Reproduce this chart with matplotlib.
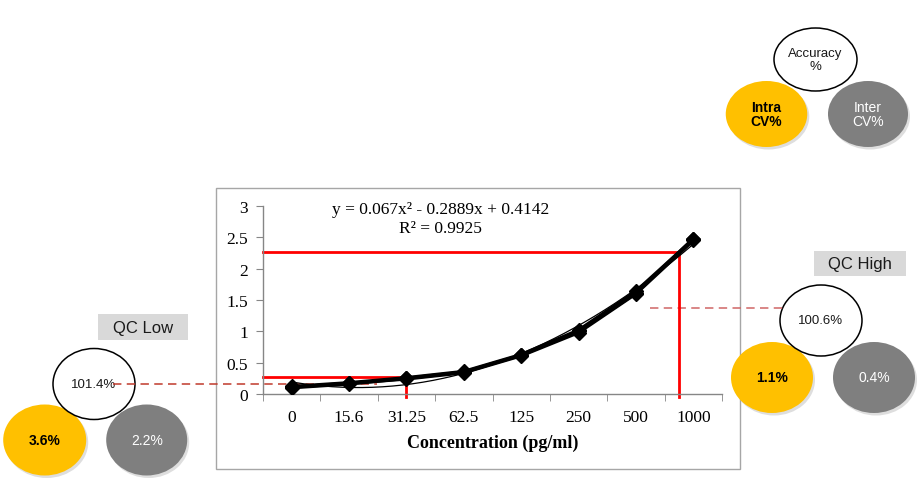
import numpy as np
import matplotlib
matplotlib.use("Agg")
import matplotlib.pyplot as plt
from matplotlib.patches import Ellipse, Rectangle

# data
concentrations = ["0", "15.6", "31.25", "62.5", "125", "250", "500", "1000"]
replicate_a = [0.10, 0.16, 0.25, 0.35, 0.62, 1.00, 1.61, 2.48]
replicate_b = [0.12, 0.18, 0.26, 0.36, 0.63, 1.02, 1.64, 2.47]
replicate_c = [0.11, 0.17, 0.24, 0.34, 0.61, 0.98, 1.60, 2.45]
fit_coeffs = [0.067, -0.2889, 0.4142]  # y = a*x^2 + b*x + c, x = 1..8
fit_label = "y = 0.067x² - 0.2889x + 0.4142"
r2_label = "R² = 0.9925"

yticks = [0, 0.5, 1, 1.5, 2, 2.5, 3]
ytick_labels = ["0", "0.5", "1", "1.5", "2", "2.5", "3"]

qc_low_x, qc_low_y = 2, 0.27
qc_high_x, qc_high_y = 6.75, 2.27

legend_labels = ["Accuracy\n%", "Intra\nCV%", "Inter\nCV%"]
qc_low_values = ["101.4%", "3.6%", "2.2%"]
qc_high_values = ["100.6%", "1.1%", "0.4%"]

YELLOW = "#FFC000"
GREY = "#7F7F7F"
SERIF = "Liberation Serif"
SANS = "Liberation Sans"

W, H = 918, 481
fig = plt.figure(figsize=(W / 100, H / 100), dpi=100)

# overlay in pixel coordinates for the decorations
ov = fig.add_axes([0, 0, 1, 1], zorder=0)
ov.set_xlim(0, W)
ov.set_ylim(H, 0)
ov.axis("off")

# chart frame
ov.add_patch(Rectangle((216, 189), 524, 281, facecolor="white",
                       edgecolor="#A6A6A6", lw=1.0, zorder=1))


def bubble(cx, cy, w, h, color, text, txtcolor, bold=False, size=10):
    if color == "white":
        ov.add_patch(Ellipse((cx, cy), w, h, facecolor="white",
                             edgecolor="black", lw=1.1, zorder=4))
        z = 4
    else:
        ov.add_patch(Ellipse((cx + 2, cy + 2.5), w, h, facecolor="#c8c8c8",
                             edgecolor="none", alpha=0.6, zorder=2))
        ov.add_patch(Ellipse((cx, cy), w, h, facecolor=color,
                             edgecolor="none", zorder=3))
        z = 3
    ov.text(cx, cy, text, ha="center", va="center", color=txtcolor,
            fontsize=size, family=SANS,
            fontweight="bold" if bold else "normal",
            linespacing=1.05, zorder=z + 0.5)


# legend group
bubble(766.5, 115, 81.5, 66, YELLOW, legend_labels[1], "black", bold=True)
bubble(868, 115, 80, 66, GREY, legend_labels[2], "white")
bubble(815.5, 60.5, 83, 63, "white", legend_labels[0], "#1a1a1a", size=9.5)

# QC Low group
ov.add_patch(Rectangle((98, 315), 90, 26, facecolor="#D9D9D9",
                       edgecolor="none", zorder=2))
ov.text(143, 328.5, "QC Low", ha="center", va="center", fontsize=12,
        family=SANS, color="#1a1a1a", zorder=3)
bubble(44.7, 441, 83, 71, YELLOW, qc_low_values[1], "black", bold=True)
bubble(146.7, 441, 81, 71, GREY, qc_low_values[2], "white")
bubble(94, 385, 82, 71, "white", qc_low_values[0], "#1a1a1a", size=9.5)

# QC High group
ov.add_patch(Rectangle((814, 252), 92, 25, facecolor="#D9D9D9",
                       edgecolor="none", zorder=2))
ov.text(860, 264.5, "QC High", ha="center", va="center", fontsize=12,
        family=SANS, color="#1a1a1a", zorder=3)
bubble(772, 378.5, 82, 71, YELLOW, qc_high_values[1], "black", bold=True)
bubble(874, 378.5, 82, 71, GREY, qc_high_values[2], "white")
bubble(821, 321.5, 82, 71, "white", qc_high_values[0], "#1a1a1a", size=9.5)

# dashed guide lines
ov.plot([113, 377], [385, 385], color="#C0392B", lw=1.1,
        dashes=(5.5, 3.5), zorder=6)
ov.plot([650, 783], [309, 309], color="#D06666", lw=1.1,
        dashes=(5.5, 3.5), zorder=6)

# main chart
ax = fig.add_axes([263 / W, (H - 395) / H, 459 / W, 188 / H], zorder=1)
ax.patch.set_alpha(0)
x = np.arange(len(concentrations))

xs = np.linspace(1, 8, 200)
ax.plot(xs - 1, np.polyval(fit_coeffs, xs), color="black", lw=0.9, zorder=3)
for rep in (replicate_a, replicate_b, replicate_c):
    ax.plot(x, rep, color="black", lw=2.4, marker="D", markersize=7.5,
            zorder=4)

ax.plot([-0.5, qc_low_x, qc_low_x], [qc_low_y, qc_low_y, -0.05],
        color="red", lw=2.0, clip_on=False, zorder=2)
ax.plot([-0.5, qc_high_x, qc_high_x], [qc_high_y, qc_high_y, -0.05],
        color="red", lw=2.0, clip_on=False, zorder=2)

ax.text(2.6, 2.95, fit_label, ha="center", va="center", fontsize=12.5,
        family=SERIF)
ax.text(2.6, 2.65, r2_label, ha="center", va="center", fontsize=12.5,
        family=SERIF)

ax.set_xlim(-0.5, 7.5)
ax.set_ylim(0, 3)
ax.set_xticks(x)
ax.set_xticklabels(concentrations, family=SERIF, fontsize=12.5)
ax.set_xticks(np.arange(-0.5, 8, 1), minor=True)
ax.set_yticks(yticks)
ax.set_yticklabels(ytick_labels, family=SERIF, fontsize=12.5)
ax.tick_params(axis="x", which="major", length=0, pad=11)
ax.tick_params(axis="x", which="minor", length=5, color="#868686",
               direction="out")
ax.tick_params(axis="y", length=5, color="#868686", direction="out", pad=6)
for side in ("top", "right"):
    ax.spines[side].set_visible(False)
for side in ("left", "bottom"):
    ax.spines[side].set_color("#868686")
    ax.spines[side].set_linewidth(1.0)
ax.set_xlabel("Concentration (pg/ml)", family=SERIF, fontsize=13,
              fontweight="bold", labelpad=6)

fig.savefig("out.png", dpi=100)
